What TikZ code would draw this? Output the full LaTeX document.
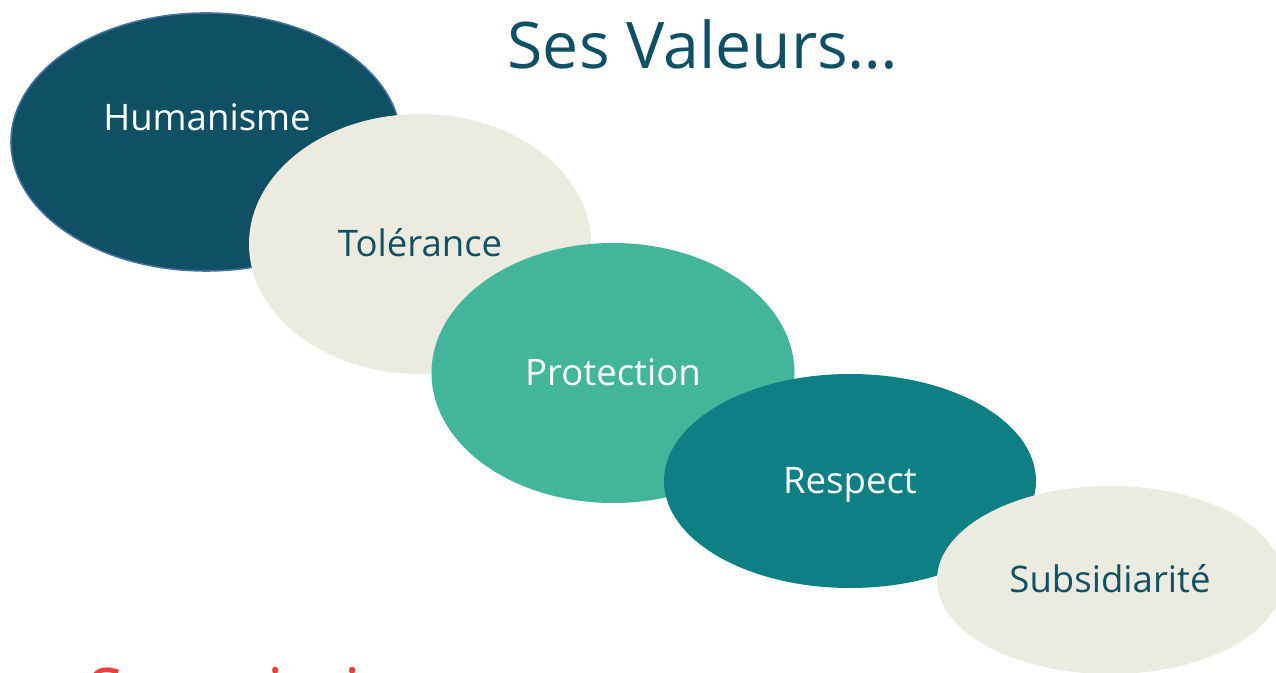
\documentclass[tikz,border=0pt]{standalone}
\usepackage{fontspec}
\setmainfont{Open Sans}
\usetikzlibrary{shapes.geometric}
\definecolor{petrole}{HTML}{0F5064}
\definecolor{beige}{HTML}{EBEBE0}
\definecolor{menthe}{HTML}{42B59A}
\definecolor{sarcelle}{HTML}{0E8085}
\definecolor{contour}{HTML}{41719C}
\definecolor{rouge}{HTML}{E8423A}
\begin{document}
\begin{tikzpicture}[x=0.1mm, y=-0.1mm,
    bulle/.style={ellipse, inner sep=0pt, font=\fontsize{10.4}{13}\selectfont,
      text height=2.6mm, text depth=0pt},
    titre/.style={font=\fontsize{18.3}{22}\selectfont, text=petrole}]
        \useasboundingbox (0,0) rectangle (1276,673);
        \clip (0,0) rectangle (1276,673);

        % Titre
        \node[titre] (titre) at (703,45) {Ses Valeurs…};

        % Bulles
        \node[bulle, fill=petrole, draw=contour, line width=0.45pt,
          minimum width=39mm, minimum height=25.8mm] (hum) at (206,142) {};
        \node[bulle, text=white, anchor=center] (humtxt) at (207,118) {Humanisme};

        \node[bulle, fill=beige, text=petrole,
          minimum width=34.2mm, minimum height=26mm] (tol) at (420,244) {Tolérance};

        \node[bulle, fill=menthe, text=white,
          minimum width=36.3mm, minimum height=26mm] (pro) at (613,373) {Protection};

        \node[bulle, fill=sarcelle, text=white,
          minimum width=37.2mm, minimum height=21.4mm] (res) at (850,481) {Respect};

        \node[bulle, fill=beige, text=petrole,
          minimum width=34.6mm, minimum height=18.8mm] (sub) at (1110,580) {Subsidiarité};

        % Suite (coupee par le bord)
        \node[titre, text=rouge, anchor=base west, inner sep=0pt] (missions) at (88,714) {Ses missions};
    \end{tikzpicture}
\end{document}
